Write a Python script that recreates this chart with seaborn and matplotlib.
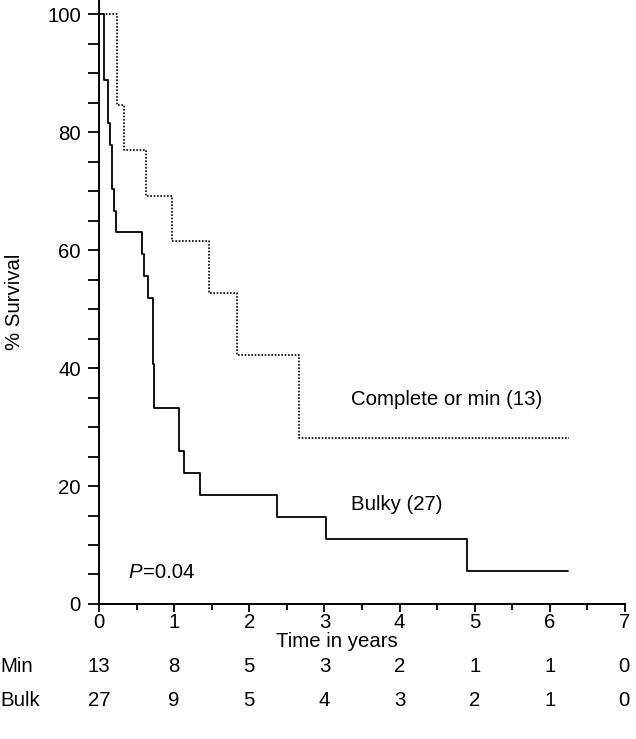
"""Kaplan-Meier style survival curves by residual disease."""
import matplotlib.pyplot as plt
import matplotlib.transforms as mtransforms
import pandas as pd
import seaborn as sns

# survival steps (time in years, % survival after each step)
min_times = [0, 0.235, 0.337, 0.62, 0.97, 1.464, 1.838, 2.667, 6.25]
min_surv = [100, 84.6, 76.9, 69.2, 61.5, 52.7, 42.2, 28.1, 28.1]

bulk_times = [0, 0.065, 0.115, 0.15, 0.177, 0.195, 0.22, 0.573, 0.6, 0.648,
              0.714, 0.732, 1.06, 1.13, 1.345, 2.374, 3.02, 4.9, 6.245]
bulk_surv = [100, 88.9, 81.5, 77.8, 70.4, 66.7, 63.0, 59.3, 55.6, 51.9,
             40.7, 33.3, 25.9, 22.2, 18.5, 14.8, 11.1, 5.6, 5.6]

# numbers at risk at each year
risk_years = [0, 1, 2, 3, 4, 5, 6, 7]
min_at_risk = [13, 8, 5, 3, 2, 1, 1, 0]
bulk_at_risk = [27, 9, 5, 4, 3, 2, 1, 0]

FS = 14.7

sns.set_style("ticks")
plt.rcParams["font.family"] = ["Liberation Sans", "DejaVu Sans"]
plt.rcParams["font.size"] = FS
plt.rcParams["text.color"] = "black"
plt.rcParams["axes.labelcolor"] = "black"

fig = plt.figure(figsize=(6.36, 7.39), dpi=100)
ax = fig.add_axes([0.1557, 0.1827, 0.827, 0.8173])

df_min = pd.DataFrame({"time": min_times, "surv": min_surv})
df_bulk = pd.DataFrame({"time": bulk_times, "surv": bulk_surv})

sns.lineplot(data=df_min, x="time", y="surv", ax=ax, color="black",
             linewidth=1.2, linestyle=(0, (1, 1)), drawstyle="steps-post")
sns.lineplot(data=df_bulk, x="time", y="surv", ax=ax, color="black",
             linewidth=1.3, drawstyle="steps-post")

ax.set_xlim(0, 7)
ax.set_ylim(0, 102.4)
ax.set_xticks(range(0, 8))
ax.set_xticks([i + 0.5 for i in range(7)], minor=True)
ax.set_yticks(range(0, 101, 20))
ax.set_yticks(range(0, 101, 5), minor=True)
ax.tick_params(axis="both", which="both", colors="black", labelsize=FS,
               width=1.3)
ax.tick_params(axis="y", which="both", length=8, pad=5)
ax.tick_params(axis="x", which="major", length=6, pad=0.5)
ax.tick_params(axis="x", which="minor", length=4)
sns.despine(ax=ax)
for s in ("left", "bottom"):
    ax.spines[s].set_linewidth(1.4)
    ax.spines[s].set_color("black")

ax.set_xlabel("Time in years", fontsize=FS)
ax.xaxis.set_label_coords(0.453, -0.047)
ax.set_ylabel("% Survival", fontsize=FS)
ax.yaxis.set_label_coords(-0.142, 0.5)

ax.text(3.36, 34.6, "Complete or min (13)", fontsize=FS, va="center")
ax.text(3.36, 16.8, "Bulky (27)", fontsize=FS, va="center")
ax.text(0.39, 5.4, "P", fontsize=FS, va="center", style="italic")
ax.text(0.59, 5.4, "=0.04", fontsize=FS, va="center")

# numbers at risk table below the axis
trans = mtransforms.blended_transform_factory(ax.transData, fig.transFigure)
for row_y, name, counts in [(1 - 667 / 739, "Min", min_at_risk),
                            (1 - 701 / 739, "Bulk", bulk_at_risk)]:
    fig.text(0.0, row_y, name, fontsize=FS, va="center", ha="left")
    for yr, n in zip(risk_years, counts):
        ha = "right" if yr == 7 else "center"
        ax.text(yr + (0.06 if yr == 7 else 0), row_y, str(n), fontsize=FS,
                va="center", ha=ha, transform=trans, clip_on=False)

fig.savefig("out.png", dpi=100)
